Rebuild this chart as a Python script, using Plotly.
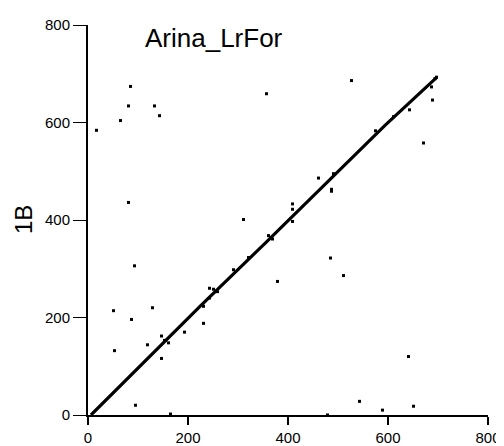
import plotly.graph_objects as go

# Main diagonal (matching stretch)
diag_x = [6, 110, 224, 354, 594, 698]
diag_y = [0, 106, 223, 352, 594, 693]

# Scattered dots (off / near diagonal)
dot_x = [85, 81, 133, 143, 65, 17, 81, 93, 51, 129, 87, 53, 119, 147, 147, 193, 231,
         243, 251, 95, 165, 291, 485, 511, 379, 543, 589, 479, 641, 651, 527, 357,
         311, 461, 487, 487, 409, 409, 409, 575, 689, 671, 643, 687, 491,
         153, 161, 231, 243, 259, 321, 361, 369, 611, 697, 694]
dot_y = [674, 634, 634, 614, 604, 584, 436, 306, 214, 220, 196, 132, 144, 162, 116, 170, 188,
         260, 258, 20, 2, 298, 322, 286, 274, 28, 10, 0, 120, 18, 686, 659,
         401, 486, 463, 459, 433, 422, 397, 583, 646, 558, 626, 673, 495,
         153, 148, 223, 240, 253, 323, 368, 361, 612, 693, 690]

x_ticks = [0, 200, 400, 600, 800]
y_ticks = [0, 200, 400, 600, 800]

FONT = "Liberation Sans, Arial, sans-serif"

fig = go.Figure()
fig.add_trace(go.Scatter(x=diag_x, y=diag_y, mode="lines",
                         line=dict(color="black", width=3.2), hoverinfo="skip"))
fig.add_trace(go.Scatter(x=dot_x, y=dot_y, mode="markers",
                         marker=dict(symbol="square", size=3, color="black",
                                     line=dict(width=0))))

fig.update_layout(
    width=504, height=446,
    margin=dict(l=80, r=24, t=8, b=38),
    paper_bgcolor="white", plot_bgcolor="white",
    showlegend=False,
    font=dict(family=FONT, color="black"),
    xaxis=dict(range=[0, 800], tickvals=x_ticks, ticktext=[str(v) for v in x_ticks],
               showgrid=False, zeroline=False, showline=True, linecolor="black",
               linewidth=2, ticks="outside", ticklen=8, tickwidth=2, tickcolor="black",
               tickfont=dict(size=15, family=FONT), ticklabeloverflow="allow",
               fixedrange=True),
    yaxis=dict(range=[0, 800], tickvals=y_ticks, ticktext=[str(v) for v in y_ticks],
               showgrid=False, zeroline=False, showline=True, linecolor="black",
               linewidth=2, ticks="outside", ticklen=13, tickwidth=1, tickcolor="black",
               tickfont=dict(size=15, family=FONT), ticklabeloverflow="allow",
               fixedrange=True),
    annotations=[
        dict(text="Arina_LrFor", x=251, xref="x", y=0.9675, yref="paper",
             xanchor="center", yanchor="middle", showarrow=False,
             font=dict(size=26, family=FONT, color="black")),
        dict(text="1B", x=-0.1625, xref="paper", y=0.5, yref="paper",
             xanchor="center", yanchor="middle", textangle=-90, showarrow=False,
             font=dict(size=24, family=FONT, color="black")),
    ],
)

fig.write_html("out.html")
